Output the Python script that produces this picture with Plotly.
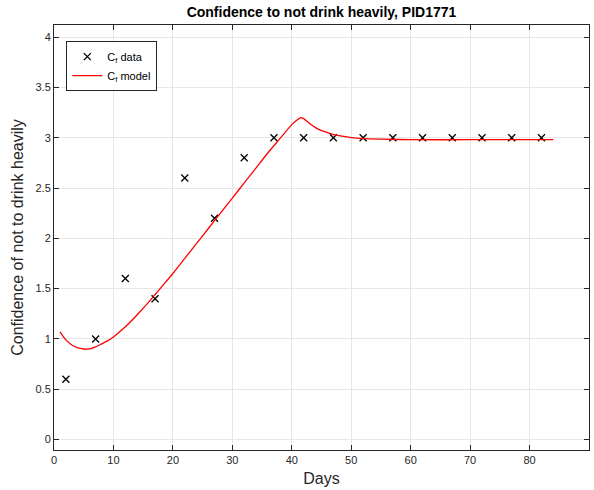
import plotly.graph_objects as go

# Observed confidence ratings
days_data = [2, 7, 12, 17, 22, 27, 32, 37, 42, 47, 52, 57, 62, 67, 72, 77, 82]
cf_data = [0.6, 1.0, 1.6, 1.4, 2.6, 2.2, 2.8, 3.0, 3.0, 3.0, 3.0, 3.0, 3.0, 3.0, 3.0, 3.0, 3.0]

# Fitted model trajectory
days_model = [1, 2, 3, 4, 5, 6, 7, 8, 9, 10, 12, 14, 16, 18, 20, 22, 24, 26, 28, 30,
              32, 34, 36, 38, 40, 41, 41.5, 42, 43, 44, 45, 46, 47, 48, 50, 52, 55,
              60, 70, 84]
cf_model = [1.07, 0.99, 0.94, 0.91, 0.90, 0.90, 0.92, 0.95, 0.98, 1.02, 1.12, 1.24,
            1.37, 1.51, 1.65, 1.80, 1.95, 2.10, 2.25, 2.40, 2.55, 2.70, 2.85, 2.99,
            3.13, 3.18, 3.20, 3.19, 3.14, 3.10, 3.07, 3.05, 3.03, 3.02, 3.00, 2.99,
            2.985, 2.98, 2.98, 2.98]

x_ticks = [0, 10, 20, 30, 40, 50, 60, 70, 80, 90]
y_ticks = [0, 0.5, 1, 1.5, 2, 2.5, 3, 3.5, 4]
y_tick_text = ["0", "0.5", "1", "1.5", "2", "2.5", "3", "3.5", "4"]

font_family = "Liberation Sans, Arial, Helvetica, sans-serif"
axis_color = "#262626"

fig = go.Figure()
fig.add_trace(go.Scatter(
    x=days_data, y=cf_data, mode="markers", name="C<sub>f</sub> data",
    marker=dict(symbol="x-thin", size=7, color="black",
                line=dict(color="black", width=1.3)),
))
fig.add_trace(go.Scatter(
    x=days_model, y=cf_model, mode="lines", name="C<sub>f</sub> model",
    line=dict(color="red", width=1.3, shape="spline", smoothing=0.6),
))

axis_common = dict(
    showline=True, linecolor=axis_color, linewidth=1, mirror="ticks",
    ticks="inside", ticklen=5, tickcolor=axis_color, tickwidth=1,
    showgrid=True, gridcolor="#e6e6e6", gridwidth=1, zeroline=False,
    tickfont=dict(family=font_family, size=11, color=axis_color),
)

fig.update_layout(
    width=594, height=490,
    margin=dict(l=54, r=5, t=25, b=40),
    paper_bgcolor="white", plot_bgcolor="white",
    font=dict(family=font_family, color=axis_color),
    title=dict(text="<b>Confidence to not drink heavily, PID1771</b>",
               x=(54 + 589) / 2 / 594, xanchor="center", y=0.975, yanchor="middle",
               font=dict(family=font_family, size=14, color="black")),
    xaxis=dict(range=[0, 90], tickvals=x_ticks,
               title=dict(text="Days", font=dict(family=font_family, size=16, color=axis_color),
                          standoff=7),
               **axis_common),
    yaxis=dict(range=[-0.104, 4.12], tickvals=y_ticks, ticktext=y_tick_text,
               title=dict(text="Confidence of not to drink heavily",
                          font=dict(family=font_family, size=16, color=axis_color),
                          standoff=7),
               **axis_common),
    legend=dict(x=0.023, y=0.962, xanchor="left", yanchor="top",
                bgcolor="white", bordercolor=axis_color, borderwidth=1,
                font=dict(family=font_family, size=11, color="black"),
                tracegroupgap=0, itemwidth=30),
    showlegend=True,
)

fig.write_html("out.html")
